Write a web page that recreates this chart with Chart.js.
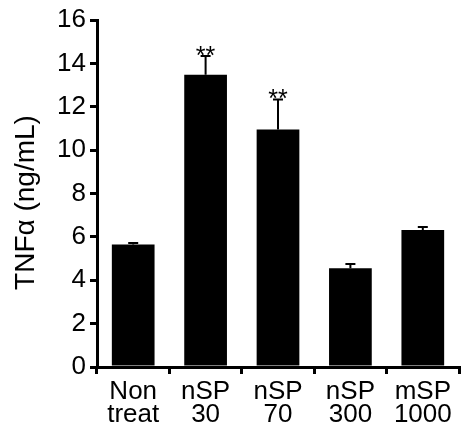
<!DOCTYPE html>
<html>
<head>
<meta charset="utf-8">
<script src="https://cdn.jsdelivr.net/npm/chart.js@4"></script>
<style>
  html, body { margin: 0; padding: 0; background: #fff; }
  #wrap { width: 472px; height: 439px; }
</style>
</head>
<body>
<div id="wrap"><canvas id="chart" width="472" height="439"></canvas></div>
<script>
// Data
const categories = [['Non', 'treat'], ['nSP', '30'], ['nSP', '70'], ['nSP', '300'], ['mSP', '1000']];
const meanValues = [5.65, 13.47, 10.95, 4.55, 6.32];
const errorTops = [5.72, 14.34, 12.34, 4.75, 6.46];
const significance = ['', '**', '**', '', ''];
const yTicks = [0, 2, 4, 6, 8, 10, 12, 14, 16];
const yTitle = 'TNFα (ng/mL)';

const FONT = "'Liberation Sans', Arial, Helvetica, sans-serif";

// Draws error bars and significance stars on top of the bars
const errorBarPlugin = {
    id: 'errorBars',
    afterDatasetsDraw(chart) {
        const ctx = chart.ctx;
        const meta = chart.getDatasetMeta(0);
        const yScale = chart.scales.y;
        ctx.save();
        ctx.strokeStyle = '#000';
        ctx.lineWidth = 2;
        meta.data.forEach((bar, i) => {
            const x = bar.x;
            const yMean = yScale.getPixelForValue(meanValues[i]);
            const yTop = yScale.getPixelForValue(errorTops[i]);
            ctx.beginPath();
            ctx.moveTo(x, yMean);
            ctx.lineTo(x, yTop);
            ctx.moveTo(x - 5, yTop);
            ctx.lineTo(x + 5, yTop);
            ctx.stroke();
            if (significance[i]) {
                ctx.fillStyle = '#000';
                ctx.font = '25px ' + FONT;
                ctx.textAlign = 'center';
                ctx.textBaseline = 'alphabetic';
                ctx.fillText(significance[i], x, yTop + 8);
            }
        });
        ctx.restore();
    }
};

// Y axis title, sits a little below the middle of the axis in the original
const yTitlePlugin = {
    id: 'yTitle',
    afterDraw(chart) {
        const ctx = chart.ctx;
        const area = chart.chartArea;
        ctx.save();
        ctx.translate(26, (area.top + area.bottom) / 2 + 9);
        ctx.rotate(-Math.PI / 2);
        ctx.fillStyle = '#000';
        ctx.font = '28px ' + FONT;
        ctx.textAlign = 'center';
        ctx.textBaseline = 'middle';
        ctx.fillText(yTitle, 0, 0);
        ctx.restore();
    }
};

new Chart(document.getElementById('chart'), {
    type: 'bar',
    data: {
        labels: categories,
        datasets: [{
            data: meanValues,
            backgroundColor: '#000',
            borderWidth: 0,
            barPercentage: 0.59,
            categoryPercentage: 1.0
        }]
    },
    options: {
        responsive: false,
        animation: false,
        devicePixelRatio: 1,
        layout: { padding: { top: 20, right: 13, left: 0, bottom: 0 } },
        plugins: {
            legend: { display: false },
            tooltip: { enabled: false }
        },
        scales: {
            x: {
                grid: {
                    offset: true,
                    drawOnChartArea: false,
                    drawTicks: true,
                    tickLength: 7,
                    lineWidth: 3,
                    color: '#000'
                },
                border: { display: true, width: 3, color: '#000' },
                ticks: {
                    color: '#000',
                    padding: 7,
                    maxRotation: 0,
                    autoSkip: false,
                    font: { family: FONT, size: 26, lineHeight: 0.87 }
                },
                afterFit(scale) { scale.height = 72; }
            },
            y: {
                min: 0,
                max: 16,
                afterBuildTicks(scale) {
                    scale.ticks = yTicks.map(v => ({ value: v }));
                },
                grid: {
                    drawOnChartArea: false,
                    drawTicks: true,
                    tickLength: 7,
                    lineWidth: 3,
                    color: '#000'
                },
                border: { display: true, width: 3, color: '#000' },
                ticks: {
                    color: '#000',
                    padding: 4,
                    font: { family: FONT, size: 26 }
                },
                afterFit(scale) { scale.width = 97; }
            }
        }
    },
    plugins: [errorBarPlugin, yTitlePlugin]
});
</script>
</body>
</html>
